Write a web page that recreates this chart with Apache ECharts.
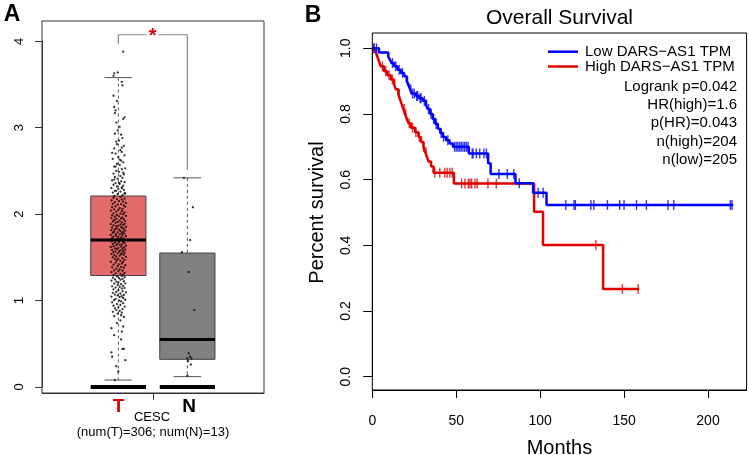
<!DOCTYPE html>
<html>
<head>
<meta charset="utf-8">
<script src="https://cdn.jsdelivr.net/npm/echarts@6/dist/echarts.min.js"></script>
<style>
  html, body { margin: 0; padding: 0; background: #fff; }
  #main { width: 750px; height: 455px; }
</style>
</head>
<body>
<div id="main"></div>
<script>
// ---- panel A : expression boxplot ----
var groupNames = ['T', 'N'];
var groupPos = [1, 2];
// [low whisker, Q1, median, Q3, high whisker]
var tBox = [0.08, 1.29, 1.70, 2.21, 3.58];
var nBox = [0.12, 0.32, 0.55, 1.55, 2.42];
var boxColors = ['#e36b6b', '#808080'];

// jitter points, [x offset, value]
var tPoints = [
  [0.07,3.88],[-0.06,3.63],[-0.01,3.64],[-0.07,3.60],[0.05,3.53],[0.06,3.49],
  [-0.07,3.37],[-0.02,3.31],[-0.06,3.24],[-0.04,3.20],[-0.05,3.17],[0.09,3.12],[0.07,3.10],[-0.03,3.06],
  [0.02,3.01],[-0.01,2.97],[-0.05,2.93],[0.06,2.88],[0.01,2.85],[-0.02,2.81],[0.08,2.79],[-0.06,2.76],
  [0.03,2.74],[0.05,2.72],[-0.04,2.70],[0.09,2.68],[0.00,2.66],[-0.08,2.64],[0.04,2.62],[0.07,2.60],
  [-0.02,2.58],[0.02,2.57],[-0.06,2.55],[0.10,2.53],[0.05,2.52],[-0.03,2.50],[0.01,2.49],[-0.07,2.47],
  [0.08,2.46],[0.03,2.44],[-0.05,2.43],[0.06,2.42],[-0.01,2.41],[-0.09,2.39],[0.04,2.38],[0.09,2.37],
  [-0.04,2.36],[0.02,2.35],[-0.07,2.34],[0.07,2.33],[-0.02,2.32],[0.05,2.31],[-0.10,2.30],[0.00,2.29],
  [0.08,2.28],[-0.05,2.27],[0.03,2.26],[-0.08,2.25],[0.10,2.24],[-0.01,2.23],[0.06,2.22],[-0.06,2.21],
  [0.04,2.92],[-0.03,2.84],[0.05,2.77],[-0.09,2.71],[0.02,2.63],[-0.04,2.55],[0.07,2.48],[-0.06,2.40],
  [0.01,2.36],[0.05,2.30],[-0.03,2.27],[0.09,2.24],
  [0.03,2.20],[-0.07,2.19],[0.09,2.18],[-0.02,2.175],[0.05,2.17],[-0.10,2.16],[0.01,2.15],[0.07,2.145],
  [-0.05,2.14],[0.11,2.13],[-0.08,2.12],[0.04,2.115],[-0.01,2.11],[0.08,2.10],[-0.04,2.09],[0.10,2.085],
  [-0.09,2.08],[0.02,2.07],[0.06,2.06],[-0.06,2.055],[0.00,2.05],[-0.11,2.04],[0.05,2.035],[-0.03,2.03],
  [0.09,2.02],[-0.07,2.01],[0.03,2.005],[0.07,2.00],[-0.02,1.99],[-0.09,1.985],[0.11,1.98],[0.01,1.975],
  [-0.05,1.97],[0.06,1.96],[-0.10,1.955],[0.04,1.95],[-0.03,1.945],[0.08,1.94],[-0.06,1.93],[0.02,1.925],
  [0.10,1.92],[-0.08,1.915],[-0.01,1.91],[0.05,1.905],[-0.04,1.90],[0.09,1.89],[-0.11,1.885],[0.03,1.88],
  [0.07,1.875],[-0.07,1.87],[0.00,1.865],[-0.03,1.86],[0.11,1.855],[0.04,1.85],[-0.09,1.845],[0.06,1.84],
  [-0.02,1.835],[0.08,1.83],[-0.05,1.825],[0.01,1.82],[-0.10,1.815],[0.10,1.81],[0.03,1.805],[-0.06,1.80],
  [0.07,1.795],[-0.01,1.79],[-0.08,1.785],[0.05,1.78],[0.09,1.775],[-0.04,1.77],[0.02,1.765],[-0.11,1.76],
  [0.06,1.755],[-0.03,1.75],[0.11,1.745],[-0.07,1.74],[0.00,1.735],[0.04,1.73],[-0.09,1.725],[0.08,1.72],
  [-0.02,1.715],[0.03,1.71],[-0.06,1.705],[0.10,1.70],[-0.04,1.695],[0.06,1.69],[-0.10,1.685],[0.01,1.68],
  [0.07,1.675],[-0.05,1.67],[0.09,1.665],[-0.01,1.66],[-0.08,1.655],[0.05,1.65],[0.02,1.645],[-0.03,1.64],
  [0.11,1.635],[-0.07,1.63],[0.04,1.625],[-0.11,1.62],[0.08,1.615],[0.00,1.61],[-0.05,1.605],[0.06,1.60],
  [-0.02,1.595],[0.10,1.59],[-0.09,1.585],[0.03,1.58],[0.07,1.575],[-0.04,1.57],[0.01,1.565],[-0.07,1.56],
  [0.09,1.555],[0.05,1.55],[-0.01,1.545],[-0.10,1.54],[0.04,1.535],[0.08,1.53],[-0.06,1.525],[0.02,1.52],
  [-0.03,1.51],[0.11,1.505],[-0.08,1.50],[0.06,1.49],[0.00,1.485],[-0.05,1.48],[0.09,1.47],[-0.02,1.465],
  [0.03,1.46],[-0.11,1.45],[0.07,1.445],[-0.04,1.44],[0.05,1.43],[0.01,1.42],[-0.07,1.415],[0.10,1.41],
  [-0.01,1.40],[0.04,1.39],[-0.09,1.385],[0.08,1.38],[-0.03,1.37],[0.02,1.36],[-0.06,1.35],[0.06,1.345],
  [0.00,1.34],[-0.10,1.33],[0.09,1.32],[-0.04,1.315],[0.03,1.31],[0.07,1.30],[-0.07,1.295],
  [0.05,1.285],[-0.02,1.28],[0.09,1.27],[-0.08,1.265],[0.01,1.26],[0.06,1.25],[-0.05,1.245],[0.03,1.24],
  [-0.10,1.23],[0.08,1.225],[-0.03,1.22],[0.00,1.21],[0.10,1.20],[-0.06,1.195],[0.04,1.19],[-0.01,1.18],
  [0.07,1.17],[-0.09,1.165],[0.02,1.16],[-0.04,1.15],[0.09,1.145],[0.05,1.14],[-0.07,1.13],[0.00,1.12],
  [0.06,1.11],[-0.03,1.10],[0.11,1.095],[-0.08,1.09],[0.03,1.08],[-0.05,1.07],[0.08,1.065],[-0.01,1.06],
  [0.05,1.05],[-0.10,1.045],[0.02,1.04],[0.07,1.03],[-0.04,1.02],[0.10,1.01],[-0.06,1.005],[0.01,1.00],
  [0.04,0.99],[-0.09,0.98],[0.07,0.97],[-0.02,0.96],[0.03,0.95],[-0.07,0.94],[0.09,0.93],[0.00,0.92],
  [-0.05,0.91],[0.06,0.90],[-0.03,0.89],[0.02,0.88],[-0.08,0.87],[0.05,0.86],[-0.01,0.85],[0.04,0.83],
  [-0.06,0.82],[0.08,0.81],
  [-0.10,0.68],[0.07,0.70],[0.05,0.64],[0.03,0.77],[-0.02,0.74],[-0.10,0.40],[-0.09,0.35],[0.06,0.44],
  [0.08,0.44],[0.10,0.31],[-0.03,0.24],[0.00,0.18],[-0.05,0.08],[0.04,0.55],[-0.06,0.60]
];
var nPoints = [
  [-0.05,2.42],[0.08,2.08],[0.04,1.70],[-0.08,1.56],[0.02,1.33],[0.10,0.89],[0.02,0.39],
  [0.04,0.35],[0.00,0.33],[0.06,0.33],[0.01,0.30],[0.05,0.26],[0.00,0.13]
];
// significance bracket: T top, bar height, N top
var bracket = [3.97, 4.076, 2.51];

// ---- panel B : Kaplan-Meier ----
var xTicksB = [0, 50, 100, 150, 200];
// [months, survival after the drop]
var lowEvents = [
  [0,1],[4,0.987],[9.5,0.975],[10.5,0.965],[11.5,0.955],[13,0.945],[15,0.935],[17,0.925],[19,0.915],
  [20.5,0.9],[21.5,0.89],[22.5,0.875],[23.5,0.862],[26,0.855],[28,0.848],[30,0.84],[32,0.828],[33,0.815],
  [34.5,0.8],[36,0.785],[37.5,0.77],[39,0.755],[40.5,0.742],[42,0.73],[44,0.72],[46,0.71],[48,0.7],
  [57.5,0.68],[69,0.65],[70.5,0.617],[85.3,0.589],[95.8,0.56],[103.8,0.523],[215,0.523]
];
var lowCensor = [1,2.5,12,14,16,18,21,23,24,25,26.5,27,28.5,29,31,33.5,35,36.5,38,41,42.5,45,49,50,51,52,53,
  54,55,56,57,59.5,60,62,64,66.5,68,75.4,80.4,84.3,87.6,98.8,101.8,115.3,120.2,121,130.2,132,140.1,147.4,
  150,157.4,163.3,176.2,179.6,213.3,214.3];
var highEvents = [
  [0,1],[2,0.99],[3,0.975],[4,0.96],[5,0.945],[7,0.93],[9,0.918],[11,0.905],[13,0.89],[14,0.875],
  [15.5,0.86],[16.5,0.845],[17.5,0.83],[18.5,0.815],[19.5,0.8],[20.5,0.786],[21.5,0.772],[23,0.758],
  [25.5,0.744],[27.5,0.73],[29,0.715],[30.5,0.7],[31.5,0.685],[32.5,0.67],[33.5,0.655],[35,0.64],
  [36.5,0.621],[48.6,0.588],[96.4,0.502],[101.7,0.401],[137.5,0.267],[159,0.267]
];
var highCensor = [1,6,8,10,12,16,19,20,22,24,26,28,30.5,32,37.2,40.2,43.2,44.6,46.2,47.6,53.2,55.2,57.2,
  58.2,59.2,61.2,62.5,68.9,73.9,133.2,149,158.4];

var lowColor = '#0000ff', highColor = '#e00000';

function levelAt(events, t) {
  var s = 1;
  for (var i = 0; i < events.length; i++) {
    if (events[i][0] <= t) s = events[i][1];
  }
  return s;
}

var myChart = echarts.init(document.getElementById('main'));
var font = 'Liberation Sans, Arial, sans-serif';

var boxData = [
  [groupPos[0]].concat(tBox, [0]),
  [groupPos[1]].concat(nBox, [1])
];

function renderBox(params, api) {
  var x = api.value(0);
  var lo = api.value(1), q1 = api.value(2), med = api.value(3), q3 = api.value(4), hi = api.value(5);
  var color = boxColors[api.value(6)];
  var hw = 0.4, cw = 0.2;
  var p = function (a, b) { return api.coord([a, b]); };
  var dash = { stroke: '#555', lineWidth: 1, lineDash: [3, 3] };
  var solid = { stroke: '#555', lineWidth: 1 };
  var a = p(x - hw, q3), b = p(x + hw, q1);
  return {
    type: 'group',
    children: [
      { type: 'line', shape: { x1: p(x, hi)[0], y1: p(x, hi)[1], x2: p(x, q3)[0], y2: p(x, q3)[1] }, style: dash },
      { type: 'line', shape: { x1: p(x, q1)[0], y1: p(x, q1)[1], x2: p(x, lo)[0], y2: p(x, lo)[1] }, style: dash },
      { type: 'line', shape: { x1: p(x - cw, hi)[0], y1: p(x, hi)[1], x2: p(x + cw, hi)[0], y2: p(x, hi)[1] }, style: solid },
      { type: 'line', shape: { x1: p(x - cw, lo)[0], y1: p(x, lo)[1], x2: p(x + cw, lo)[0], y2: p(x, lo)[1] }, style: solid },
      { type: 'rect', shape: { x: a[0], y: a[1], width: b[0] - a[0], height: b[1] - a[1] }, style: { fill: color, stroke: '#444', lineWidth: 1 } },
      { type: 'line', shape: { x1: a[0], y1: p(x, med)[1], x2: b[0], y2: p(x, med)[1] }, style: { stroke: '#000', lineWidth: 3 } },
      { type: 'line', shape: { x1: a[0], y1: p(x, 0)[1], x2: b[0], y2: p(x, 0)[1] }, style: { stroke: '#000', lineWidth: 4 } }
    ]
  };
}

var tScatter = tPoints.map(function (d) { return [groupPos[0] + d[0], d[1]]; });
var nScatter = nPoints.map(function (d) { return [groupPos[1] + d[0], d[1]]; });

var bracketLine = [
  [groupPos[0], bracket[0]], [groupPos[0], bracket[1]], [1.41, bracket[1]], '-',
  [1.58, bracket[1]], [groupPos[1], bracket[1]], [groupPos[1], bracket[2]]
];

var lowMarks = lowCensor.map(function (t) { return [t, levelAt(lowEvents, t)]; });
var highMarks = highCensor.map(function (t) { return [t, levelAt(highEvents, t)]; });

myChart.setOption({
  animation: false,
  textStyle: { fontFamily: font },
  grid: [
    { left: 42, right: 486, top: 41.3, bottom: 68, outerBoundsMode: 'none', containLabel: false },
    { left: 372.3, right: 3.4, top: 48.3, bottom: 78.3, outerBoundsMode: 'none', containLabel: false }
  ],
  xAxis: [
    {
      gridIndex: 0, type: 'value', min: -0.106, max: 3.11, offset: 6,
      splitLine: { show: false },
      axisLine: { show: true, onZero: false, lineStyle: { color: '#333' } },
      axisTick: { show: true, customValues: [1.5], length: 7, lineStyle: { color: '#333' } },
      axisLabel: { show: false }
    },
    {
      gridIndex: 1, type: 'value', min: 0, max: 223, offset: 13.3,
      splitLine: { show: false },
      axisLine: { show: true, onZero: false, lineStyle: { color: '#000' } },
      axisTick: { length: 8, customValues: xTicksB, lineStyle: { color: '#000' } },
      axisLabel: { fontSize: 14, color: '#000', margin: 24, fontFamily: font, customValues: xTicksB },
      name: 'Months', nameLocation: 'middle', nameGap: 48,
      nameTextStyle: { fontSize: 20, color: '#000', fontFamily: font }
    }
  ],
  yAxis: [
    {
      gridIndex: 0, type: 'value', min: 0, max: 4, interval: 1,
      splitLine: { show: false },
      axisLine: { show: true, onZero: false, lineStyle: { color: '#333' } },
      axisTick: { length: 7, lineStyle: { color: '#333' } },
      axisLabel: { rotate: 90, fontSize: 13, color: '#000', margin: 16, fontFamily: font }
    },
    {
      gridIndex: 1, type: 'value', min: 0, max: 1, interval: 0.2,
      splitLine: { show: false },
      axisLine: { show: true, onZero: false, lineStyle: { color: '#000' } },
      axisTick: { length: 9, lineStyle: { color: '#000' } },
      axisLabel: { rotate: 90, fontSize: 14, color: '#000', margin: 19, fontFamily: font,
        formatter: function (v) { return v.toFixed(1); } },
      name: 'Percent survival', nameLocation: 'middle', nameGap: 45, nameRotate: 90,
      nameTextStyle: { fontSize: 20, color: '#000', fontFamily: font }
    }
  ],
  series: [
    { type: 'custom', xAxisIndex: 0, yAxisIndex: 0, renderItem: renderBox, data: boxData, z: 2,
      encode: { x: 0, y: [1, 2, 3, 4, 5] } },
    { type: 'scatter', xAxisIndex: 0, yAxisIndex: 0, data: tScatter, symbolSize: 2.3,
      itemStyle: { color: '#000' }, z: 3, silent: true },
    { type: 'scatter', xAxisIndex: 0, yAxisIndex: 0, data: nScatter, symbolSize: 2.3,
      itemStyle: { color: '#000' }, z: 3, silent: true },
    { type: 'line', xAxisIndex: 0, yAxisIndex: 0, data: bracketLine, showSymbol: false, symbol: 'none',
      connectNulls: false, clip: false, lineStyle: { color: '#888', width: 1.2 }, z: 3 },
    { type: 'line', xAxisIndex: 1, yAxisIndex: 1, data: highEvents, step: 'end', symbol: 'none',
      clip: false, lineStyle: { color: highColor, width: 2.5 }, z: 3 },
    { type: 'line', xAxisIndex: 1, yAxisIndex: 1, data: lowEvents, step: 'end', symbol: 'none',
      clip: false, lineStyle: { color: lowColor, width: 2.5 }, z: 4 },
    { type: 'scatter', xAxisIndex: 1, yAxisIndex: 1, data: highMarks, symbol: 'rect', symbolSize: [1.4, 10],
      clip: false, itemStyle: { color: highColor }, z: 3, silent: true },
    { type: 'scatter', xAxisIndex: 1, yAxisIndex: 1, data: lowMarks, symbol: 'rect', symbolSize: [1.4, 10],
      clip: false, itemStyle: { color: lowColor }, z: 4, silent: true }
  ],
  graphic: [
    // frames
    { type: 'rect', shape: { x: 42, y: 21, width: 222, height: 372 }, style: { fill: null, stroke: '#333', lineWidth: 1 }, z: 10 },
    { type: 'rect', shape: { x: 372.3, y: 33, width: 374.3, height: 357 }, style: { fill: null, stroke: '#000', lineWidth: 1 }, z: 10 },
    // panel letters
    { type: 'text', x: 12, y: 15, style: { text: 'A', font: 'bold 23px ' + font, fill: '#000', align: 'center', verticalAlign: 'middle' } },
    { type: 'text', x: 313, y: 16, style: { text: 'B', font: 'bold 23px ' + font, fill: '#000', align: 'center', verticalAlign: 'middle' } },
    // panel A labels
    { type: 'text', x: 152.7, y: 36, style: { text: '*', font: 'bold 20px ' + font, fill: '#e00000', align: 'center', verticalAlign: 'middle' }, z: 11 },
    { type: 'text', x: 118.5, y: 407, style: { text: groupNames[0], font: 'bold 19px ' + font, fill: '#e00000', align: 'center', verticalAlign: 'middle' } },
    { type: 'text', x: 189, y: 407, style: { text: groupNames[1], font: 'bold 19px ' + font, fill: '#000', align: 'center', verticalAlign: 'middle' } },
    { type: 'text', x: 152, y: 417, style: { text: 'CESC', font: '13px ' + font, fill: '#000', align: 'center', verticalAlign: 'middle' } },
    { type: 'text', x: 153, y: 432, style: { text: '(num(T)=306; num(N)=13)', font: '13px ' + font, fill: '#000', align: 'center', verticalAlign: 'middle' } },
    // panel B title and legend
    { type: 'text', x: 559.5, y: 18, style: { text: 'Overall Survival', font: '21px ' + font, fill: '#000', align: 'center', verticalAlign: 'middle' } },
    { type: 'line', shape: { x1: 548, y1: 51.7, x2: 578, y2: 51.7 }, style: { stroke: lowColor, lineWidth: 2.5 } },
    { type: 'line', shape: { x1: 548, y1: 66.5, x2: 578, y2: 66.5 }, style: { stroke: highColor, lineWidth: 2.5 } },
    { type: 'text', x: 585, y: 51.7, style: { text: 'Low DARS\u2212AS1 TPM', font: '15px ' + font, fill: '#000', verticalAlign: 'middle' } },
    { type: 'text', x: 585, y: 66.5, style: { text: 'High DARS\u2212AS1 TPM', font: '15px ' + font, fill: '#000', verticalAlign: 'middle' } },
    { type: 'text', x: 737, y: 86.7, style: { text: 'Logrank p=0.042', font: '15px ' + font, fill: '#000', align: 'right', verticalAlign: 'middle' } },
    { type: 'text', x: 737, y: 104.5, style: { text: 'HR(high)=1.6', font: '15px ' + font, fill: '#000', align: 'right', verticalAlign: 'middle' } },
    { type: 'text', x: 737, y: 122.7, style: { text: 'p(HR)=0.043', font: '15px ' + font, fill: '#000', align: 'right', verticalAlign: 'middle' } },
    { type: 'text', x: 737, y: 141.7, style: { text: 'n(high)=204', font: '15px ' + font, fill: '#000', align: 'right', verticalAlign: 'middle' } },
    { type: 'text', x: 737, y: 160, style: { text: 'n(low)=205', font: '15px ' + font, fill: '#000', align: 'right', verticalAlign: 'middle' } }
  ]
});
</script>
</body>
</html>
